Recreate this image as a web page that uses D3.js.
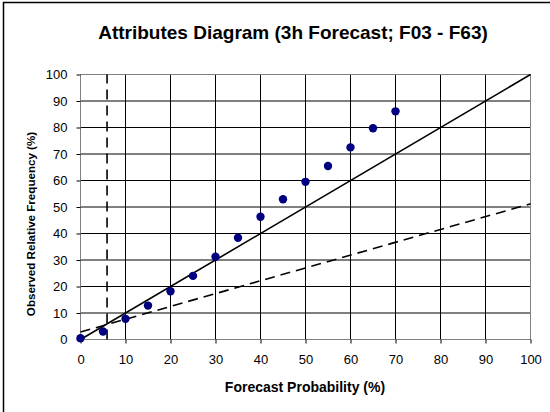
<!DOCTYPE html>
<html>
<head>
<meta charset="utf-8">
<script src="https://cdn.jsdelivr.net/npm/d3@7"></script>
<style>
  html, body { margin: 0; padding: 0; background: #fff; }
  svg { display: block; }
  text { font-family: Arial, "Liberation Sans", sans-serif; fill: #000; }
</style>
</head>
<body>
<script>
// ---- data ----
const forecastProb = [0, 5, 10, 15, 20, 25, 30, 35, 40, 45, 50, 55, 60, 65, 70];
const observedFreq = [0.5, 3, 7.8, 12.8, 18.2, 24, 31.2, 38.4, 46.3, 52.9, 59.5, 65.5, 72.5, 79.7, 86.1];
const perfectLine = [[0, 0], [100, 100]];
const noSkillLine = [[0, 2.8], [100, 51.2]];
const climatology = 5.9;
const xTicks = [0, 10, 20, 30, 40, 50, 60, 70, 80, 90, 100];
const yTicks = [0, 10, 20, 30, 40, 50, 60, 70, 80, 90, 100];
const titleText = "Attributes Diagram (3h Forecast; F03 - F63)";
const xLabel = "Forecast Probability (%)";
const yLabel = "Observed Relative Frequency (%)";

const W = 550, H = 412;
const svg = d3.select("body").append("svg").attr("width", W).attr("height", H);

// outer frame (left and top edges visible)
svg.append("path").attr("d", "M3.5,412 V2.5 H550").attr("fill", "none").attr("stroke", "#000").attr("stroke-width", 1.5);

const x = d3.scaleLinear().domain([0, 100]).range([80.5, 530.5]);
const y = d3.scaleLinear().domain([0, 100]).range([339.5, 74.5]);

// gridlines
const g = svg.append("g");
g.selectAll(".vg").data(xTicks.slice(1, -1)).join("line")
  .attr("x1", d => x(d)).attr("x2", d => x(d)).attr("y1", y(0)).attr("y2", y(100))
  .attr("stroke", "#000").attr("stroke-width", 1);
g.selectAll(".hg").data(yTicks.slice(1, -1)).join("line")
  .attr("x1", x(0)).attr("x2", x(100)).attr("y1", d => y(d)).attr("y2", d => y(d))
  .attr("stroke", "#000").attr("stroke-width", 1);

// plot border
svg.append("rect").attr("x", x(0)).attr("y", y(100)).attr("width", x(100) - x(0)).attr("height", y(0) - y(100))
  .attr("fill", "none").attr("stroke", "#808080").attr("stroke-width", 1);

// axes
const xAxis = d3.axisBottom(x).tickValues(xTicks).tickSize(4).tickPadding(11);
const yAxis = d3.axisLeft(y).tickValues(yTicks).tickSize(4).tickPadding(9);
const gx = svg.append("g").attr("transform", `translate(0,${y(0)})`).call(xAxis);
const gy = svg.append("g").attr("transform", `translate(${x(0)},0)`).call(yAxis);
[gx, gy].forEach(a => {
  a.select(".domain").remove();
  a.selectAll(".tick line").attr("stroke", "#000");
  a.selectAll(".tick text").attr("font-size", 13).attr("font-family", "Arial, 'Liberation Sans', sans-serif").attr("fill", "#000");
});

// lines
const line = d3.line().x(d => x(d[0])).y(d => y(d[1]));
svg.append("path").datum(perfectLine).attr("d", line).attr("fill", "none").attr("stroke", "#000").attr("stroke-width", 1.6);
svg.append("path").datum(noSkillLine).attr("d", line).attr("fill", "none").attr("stroke", "#000").attr("stroke-width", 1.6).attr("stroke-dasharray", "10,6");
svg.append("line").attr("x1", x(climatology)).attr("x2", x(climatology)).attr("y1", y(0)).attr("y2", y(100))
  .attr("stroke", "#000").attr("stroke-width", 1.6).attr("stroke-dasharray", "10,6");

// points
svg.selectAll(".pt").data(forecastProb.map((p, i) => [p, observedFreq[i]])).join("circle")
  .attr("cx", d => x(d[0])).attr("cy", d => y(d[1])).attr("r", 4.2).attr("fill", "#000080");

// titles
svg.append("text").attr("x", 293).attr("y", 39).attr("text-anchor", "middle")
  .attr("font-size", 19).attr("font-weight", "bold").text(titleText);
svg.append("text").attr("x", 305).attr("y", 392).attr("text-anchor", "middle")
  .attr("font-size", 14).attr("font-weight", "bold").text(xLabel);
svg.append("text").attr("transform", "translate(34.5,224) rotate(-90)").attr("text-anchor", "middle")
  .attr("font-size", 11.6).attr("font-weight", "bold").text(yLabel);
</script>
</body>
</html>
